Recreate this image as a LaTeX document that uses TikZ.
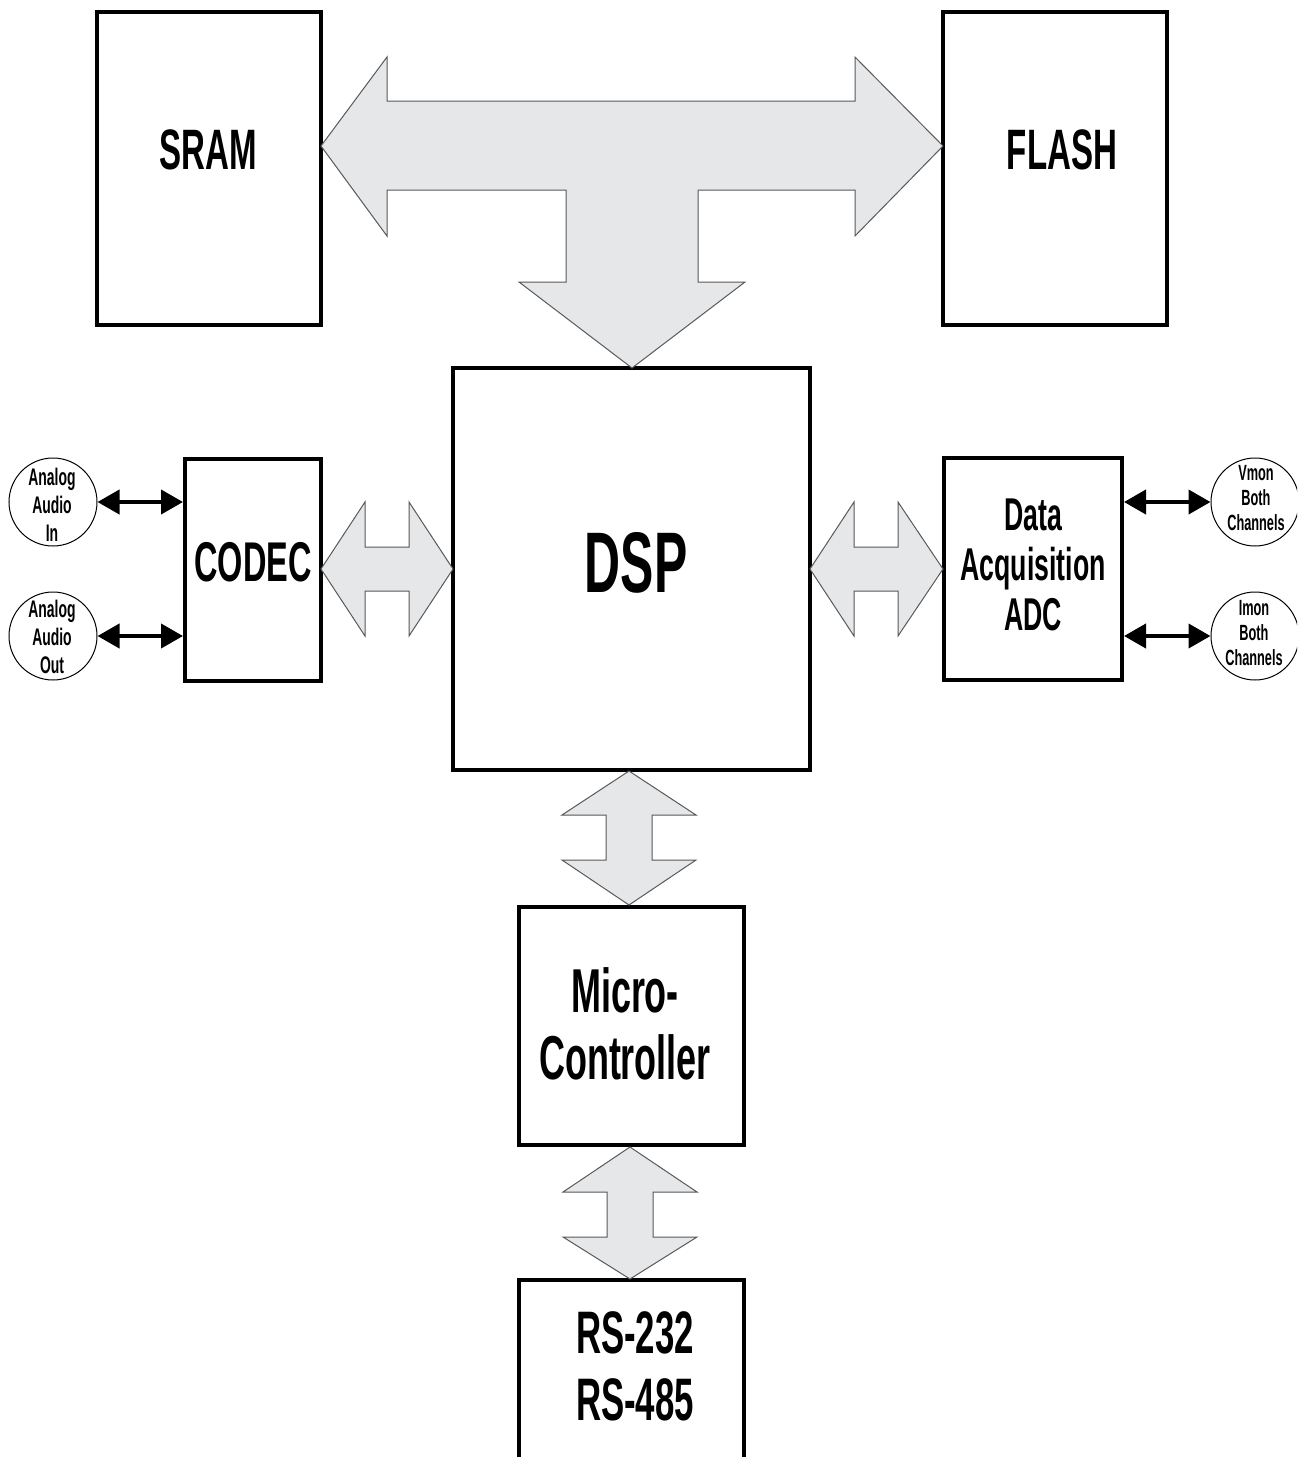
\documentclass[tikz,border=0pt]{standalone}
\usepackage{fontspec}
\setmainfont{Liberation Sans}[FakeStretch=0.58]
\usetikzlibrary{arrows.meta,fit}
\definecolor{busfill}{HTML}{E6E7E8}
\definecolor{busline}{HTML}{58595B}
\begin{document}
\begin{tikzpicture}[x=0.5pt,y=-0.5pt,
  box/.style={draw=black, line width=2pt, fill=white, inner sep=0pt},
  bus/.style={fill=busfill, draw=busline, line width=0.5pt, line join=miter},
  sig/.style={line width=2pt, {Triangle[length=11pt,width=12pt]}-{Triangle[length=11pt,width=12pt]}},
  port/.style={draw=black, circle, line width=0.5pt, minimum size=44pt, inner sep=0pt},
  big/.style={font=\fontsize{28.5pt}{34pt}\selectfont\bfseries},
  huge/.style={font=\fontsize{43pt}{50pt}\selectfont\bfseries},
  mid/.style={font=\fontsize{30pt}{33.5pt}\selectfont\bfseries, align=center},
  acq/.style={font=\fontsize{23pt}{25pt}\selectfont\bfseries, align=center},
  ptxt/.style={font=\fontsize{12pt}{14pt}\selectfont\bfseries, align=center},
  ptxts/.style={font=\fontsize{11pt}{12.5pt}\selectfont\bfseries, align=center}
]
\useasboundingbox (0,0) rectangle (1297,1457);
\clip (0,0) rectangle (1297,1457);

% main blocks
\node[box, fit={(97,12) (321,325)}] (sram) {};
\node[box, fit={(943,12) (1167,325)}] (flash) {};
\node[box, fit={(453,368) (810,770)}] (dsp) {};
\node[box, fit={(185,459) (321,681)}] (codec) {};
\node[box, fit={(944,458) (1122,680)}] (adc) {};
\node[box, fit={(519,907) (744,1145)}] (micro) {};
\node[box, fit={(519,1280) (744,1480)}] (rs) {};

% block labels
\node[big] (sramt) at (208,150) {SRAM};
\node[big] (flasht) at (1062,150) {FLASH};
\node[huge] (dspt) at (636,563) {DSP};
\node[font=\fontsize{28pt}{33pt}\selectfont\bfseries] (codect) at (253,562) {CODEC};
\node[acq] (adct) at (1033,565) {Data\\Acquisition\\ADC};
\node[mid, font=\fontsize{31pt}{33.5pt}\selectfont\bfseries] (microt) at (625,1023.5) {Micro-\\Controller};
\node[mid] (rst) at (635,1366.5) {RS-232\\RS-485};

% ports
\node[port] (ain) at (53,502) {};
\node[port] (aout) at (53,636) {};
\node[port] (vmon) at (1255,502) {};
\node[port] (imon) at (1255,636) {};
\node[ptxt] (aint) at (52,505) {Analog\\Audio\\In};
\node[ptxt] (aoutt) at (52,637) {Analog\\Audio\\Out};
\node[ptxts] (vmont) at (1256,498) {Vmon\\Both\\Channels};
\node[ptxts] (imont) at (1254,633) {Imon\\Both\\Channels};

% signal arrows
\draw[sig] (ain.east) -- (ain.east -| codec.west);
\draw[sig] (aout.east) -- (aout.east -| codec.west);
\draw[sig] (vmon.west -| adc.east) -- (vmon.west);
\draw[sig] (imon.west -| adc.east) -- (imon.west);

% memory bus (T arrow)
\draw[bus] (321,146) -- (387,57) -- (387,101) -- (855,101) -- (855,57) -- (943,146)
  -- (855,236) -- (855,190) -- (698,190) -- (698,282) -- (745,282) -- (632,368)
  -- (519,282) -- (566,282) -- (566,190) -- (387,190) -- (387,236) -- cycle;

% codec - dsp
\draw[bus] (321,569) -- (365,502) -- (365,547) -- (409,547) -- (409,502) -- (453,569)
  -- (409,636) -- (409,591) -- (365,591) -- (365,636) -- cycle;
% dsp - adc
\draw[bus] (810,569) -- (854,502) -- (854,547) -- (898,547) -- (898,502) -- (943,569)
  -- (898,636) -- (898,591) -- (854,591) -- (854,636) -- cycle;
% dsp - micro
\draw[bus] (629,771) -- (696,815) -- (652,815) -- (652,860) -- (696,860) -- (629,905)
  -- (562,860) -- (606,860) -- (606,815) -- (562,815) -- cycle;
% micro - rs
\draw[bus] (630,1147) -- (697,1192) -- (653,1192) -- (653,1237) -- (697,1237) -- (630,1279)
  -- (563,1237) -- (607,1237) -- (607,1192) -- (563,1192) -- cycle;
\end{tikzpicture}
\end{document}
